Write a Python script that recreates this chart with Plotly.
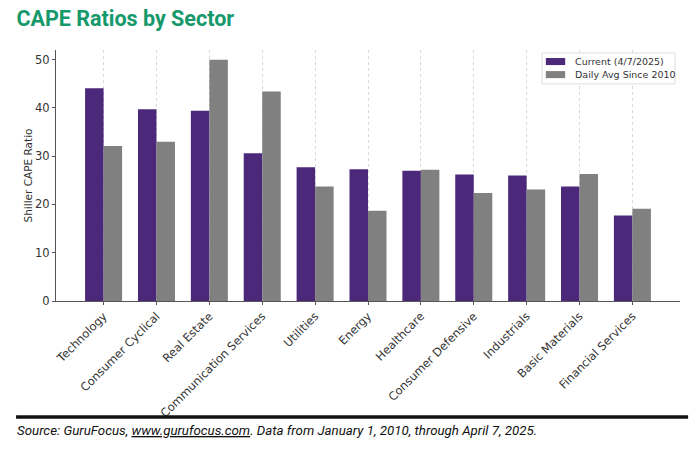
import plotly.graph_objects as go

sectors = ['Technology', 'Consumer Cyclical', 'Real Estate', 'Communication Services',
           'Utilities', 'Energy', 'Healthcare', 'Consumer Defensive', 'Industrials',
           'Basic Materials', 'Financial Services']
current = [44.1, 39.7, 39.4, 30.6, 27.7, 27.3, 27.0, 26.2, 26.0, 23.7, 17.7]
daily_avg = [32.1, 33.0, 50.0, 43.4, 23.7, 18.7, 27.2, 22.4, 23.1, 26.3, 19.1]
series_names = ['Current (4/7/2025)', 'Daily Avg Since 2010']

purple = '#4b2879'
grey = '#808080'

fig = go.Figure()
fig.add_trace(go.Bar(x=sectors, y=current, name=series_names[0],
                     marker=dict(color=purple, line=dict(width=0)), offsetgroup='a'))
fig.add_trace(go.Bar(x=sectors, y=daily_avg, name=series_names[1],
                     marker=dict(color=grey, line=dict(width=0)), offsetgroup='b'))

# page body has an 8px margin, so margins are shifted to compensate
fig.update_layout(
    width=700, height=456,
    paper_bgcolor='white', plot_bgcolor='white',
    margin=dict(l=48, r=28, t=42, b=163),
    barmode='group', bargap=0.3, bargroupgap=0,
    font=dict(family='DejaVu Sans', size=11, color='#333333'),
    title=dict(text='<b>CAPE Ratios by Sector</b>', x=0.012, xanchor='left',
               y=0.976, yanchor='middle',
               font=dict(family='Roboto', size=21.5, color='#15996b')),
    showlegend=False,
)

fig.update_xaxes(range=[-0.9, 10.9], tickangle=-45, showline=True, linecolor='#555555',
                 linewidth=1, ticks='outside', ticklen=3, tickcolor='#555555',
                 showgrid=True, gridcolor='#d9d9d9', griddash='dot', gridwidth=1,
                 automargin=False, tickfont=dict(size=11.5, color='#333333'))
fig.update_yaxes(range=[0, 52], dtick=10, showline=True, linecolor='#555555', linewidth=1,
                 ticks='outside', ticklen=3, tickcolor='#555555', showgrid=False,
                 zeroline=False, automargin=False, tickfont=dict(size=11.5, color='#333333'),
                 title=dict(text='Shiller CAPE Ratio', font=dict(size=10.5, color='#333333'),
                            standoff=0))

# compact legend box (matplotlib style)
fig.add_shape(type='rect', xref='paper', yref='paper', x0=0.779, x1=0.992, y0=0.865, y1=0.988,
              line=dict(color='#dddddd', width=1), fillcolor='rgba(255,255,255,0.9)')
for i, (nm, col) in enumerate(zip(series_names, [purple, grey])):
    yc = 0.954 - i * 0.052
    fig.add_shape(type='rect', xref='paper', yref='paper', x0=0.785, x1=0.816,
                  y0=yc - 0.014, y1=yc + 0.014, line=dict(width=0), fillcolor=col)
    fig.add_annotation(xref='paper', yref='paper', x=0.8285, y=yc, xanchor='left', yanchor='middle',
                       showarrow=False, text=nm, font=dict(size=9.5, color='#333333'))

# footer rule and source note
fig.add_shape(type='line', xref='paper', yref='paper', x0=-0.064, x1=1.013,
              y0=-0.462, y1=-0.462, line=dict(color='#111111', width=3.5))
fig.add_annotation(xref='paper', yref='paper', x=-0.066, y=-0.514, xanchor='left', yanchor='middle',
                   showarrow=False, align='left',
                   text='<i>Source: GuruFocus, <u>www.gurufocus.com</u>. Data from January 1, 2010, through April 7, 2025.</i>',
                   font=dict(family='Roboto', size=13.3, color='#111111'))

fig.write_html("out.html")
